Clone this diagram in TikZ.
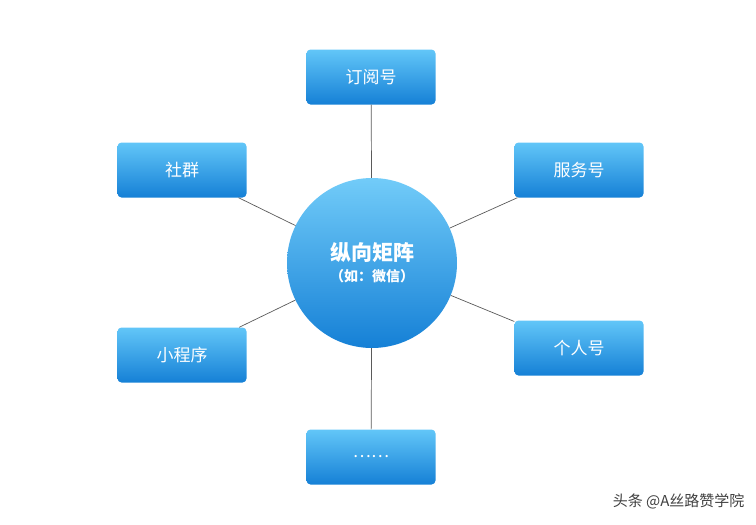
\documentclass[tikz,border=0pt]{standalone}
\usepackage{fontspec}
\setmainfont{Noto Sans CJK SC}
\usetikzlibrary{positioning}
\definecolor{TopBlue}{HTML}{62C6F8}
\definecolor{BotBlue}{HTML}{1580D6}
\definecolor{Link}{HTML}{5A5A5A}

\begin{document}
\begin{tikzpicture}[
    x=1pt, y=-1pt,
    chanBox/.style={rectangle, rounded corners=4pt, minimum width=129pt, minimum height=55pt,
      top color=TopBlue, bottom color=BotBlue, text=white, font=\fontsize{17}{20}\selectfont},
    hubCircle/.style={circle, minimum size=170pt, inner sep=0pt, top color=TopBlue!90!white,
      bottom color=BotBlue, text=white, align=center},
    link/.style={draw=Link, line width=0.7pt},
  ]
  \useasboundingbox (0,0) rectangle (756,525);
  % centre
  \node[hubCircle] (hub) at (372,263)
    {{\fontsize{21}{26}\selectfont\bfseries 纵向矩阵}\\[6pt]{\fontsize{14}{17}\selectfont\bfseries （如：微信）}};
  % channels
  \node[chanBox] (dingyue) at (371,77)  {订阅号};
  \node[chanBox] (shequn)  at (182,170) {社群};
  \node[chanBox] (fuwu)    at (579,170) {服务号};
  \node[chanBox] (xiaocx)  at (182,355) {小程序};
  \node[chanBox] (geren)   at (579,348) {个人号};
  \node[chanBox] (more)    at (371,457) {……};
  % lines
  \draw[link] (hub) -- (dingyue);
  \draw[link] (hub) -- (shequn);
  \draw[link] (hub) -- (fuwu);
  \draw[link] (hub) -- (xiaocx);
  \draw[link] (hub) -- (geren);
  \draw[link] (hub) -- (more);
  % watermark
  \node[text=black!75, font=\fontsize{15}{18}\selectfont, anchor=east] (mark) at (748,501) {头条 @A丝路赞学院};
\end{tikzpicture}
\end{document}
